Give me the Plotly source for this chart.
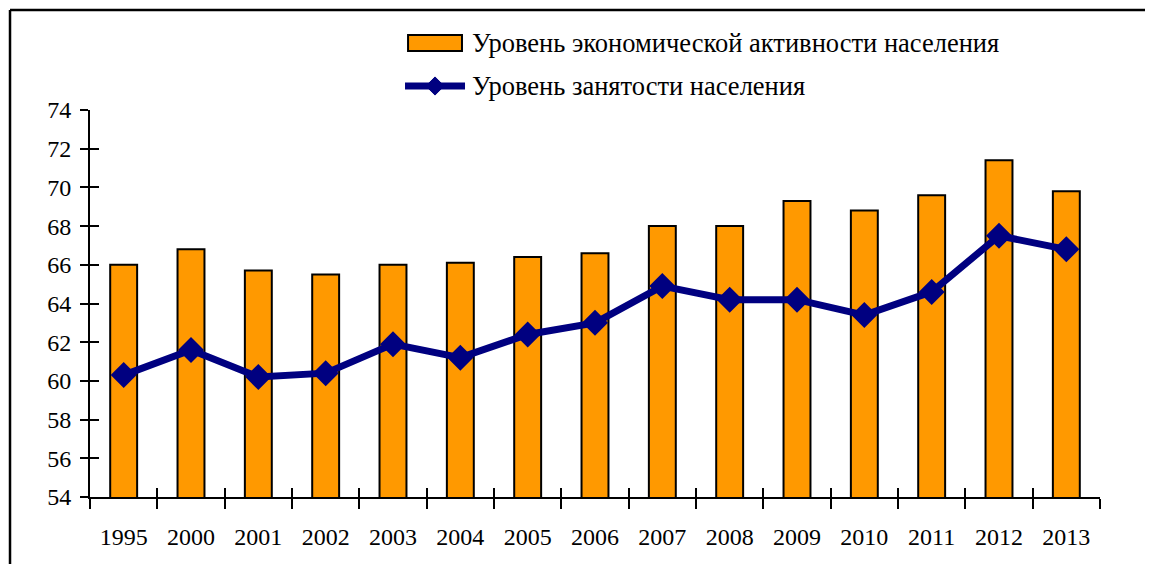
import plotly.graph_objects as go

years = ["1995", "2000", "2001", "2002", "2003", "2004", "2005", "2006",
         "2007", "2008", "2009", "2010", "2011", "2012", "2013"]
activity = [66.0, 66.8, 65.7, 65.5, 66.0, 66.1, 66.4, 66.6,
            68.0, 68.0, 69.3, 68.8, 69.6, 71.4, 69.8]
employment = [60.3, 61.6, 60.2, 60.4, 61.9, 61.2, 62.4, 63.0,
              64.9, 64.2, 64.2, 63.4, 64.6, 67.5, 66.8]
name_bar = "Уровень экономической активности населения"
name_line = "Уровень занятости населения"
y_ticks = list(range(54, 75, 2))

FONT = "Liberation Serif, Times New Roman, serif"
ORANGE = "#FF9900"
NAVY = "#000080"

fig = go.Figure()
fig.add_trace(go.Bar(
    x=years, y=activity, name=name_bar, showlegend=False,
    marker=dict(color=ORANGE, line=dict(color="black", width=2)),
))
fig.add_trace(go.Scatter(
    x=years, y=employment, name=name_line, showlegend=False,
    mode="lines+markers",
    line=dict(color=NAVY, width=7),
    marker=dict(symbol="diamond", size=20, color=NAVY),
))

# invisible trace on overlay axes so that ticks crossing the axis lines are drawn
n = len(years)
fig.add_trace(go.Scatter(x=[-0.5, n - 0.5], y=[54, 74], xaxis="x2", yaxis="y2",
                         mode="markers", marker=dict(opacity=0, size=1),
                         showlegend=False, hoverinfo="skip"))

# legend drawn by hand (swatch + line/diamond + text)
lx0, lx1 = 0.3149, 0.3683
sw_y0, sw_y1 = 1.1525, 1.1938
ln_y = 1.062
dx, dy = 0.0090, 0.0235
dcx = 0.3416
shapes = [
    dict(type="line", xref="paper", yref="paper", x0=-0.0792, x1=-0.0792,
         y0=1.2584, y1=-0.2, line=dict(color="black", width=2.5)),
    dict(type="line", xref="paper", yref="paper", x0=-0.0792, x1=1.06,
         y0=1.2584, y1=1.2584, line=dict(color="black", width=2.5)),
    dict(type="rect", xref="paper", yref="paper", x0=lx0, x1=lx1, y0=sw_y0, y1=sw_y1,
         fillcolor=ORANGE, line=dict(color="black", width=2)),
    dict(type="line", xref="paper", yref="paper", x0=0.3119, x1=0.3713, y0=ln_y, y1=ln_y,
         line=dict(color=NAVY, width=7)),
    dict(type="path", xref="paper", yref="paper",
         path=f"M {dcx-dx},{ln_y} L {dcx},{ln_y+dy} L {dcx+dx},{ln_y} L {dcx},{ln_y-dy} Z",
         fillcolor=NAVY, line=dict(color=NAVY, width=1)),
]
annotations = [
    dict(text=name_bar, xref="paper", yref="paper", x=0.3762, y=1.174,
         xanchor="left", yanchor="middle", showarrow=False,
         font=dict(family=FONT, size=26.5, color="black")),
    dict(text=name_line, xref="paper", yref="paper", x=0.3762, y=1.062,
         xanchor="left", yanchor="middle", showarrow=False,
         font=dict(family=FONT, size=26.5, color="black")),
]

fig.update_layout(
    width=1145, height=556,
    margin=dict(l=82, r=53, t=102, b=67),
    paper_bgcolor="white", plot_bgcolor="white",
    font=dict(family=FONT, size=24, color="black"),
    bargap=0.6,
    showlegend=False,
    xaxis=dict(type="category", range=[-0.5, n - 0.5], showline=True,
               linecolor="black", linewidth=2,
               ticks="outside", ticklen=10, tickwidth=2, tickcolor="black",
               tickson="boundaries", showgrid=False, zeroline=False,
               ticklabelstandoff=17,
               tickfont=dict(family=FONT, size=24)),
    yaxis=dict(range=[54, 74], tickvals=y_ticks, showline=True, linecolor="black",
               linewidth=2, ticks="outside", ticklen=8, tickwidth=2,
               tickcolor="black", showgrid=False, zeroline=False,
               ticklabelstandoff=4,
               tickfont=dict(family=FONT, size=24)),
    xaxis2=dict(type="linear", overlaying="x", range=[-0.5, n - 0.5],
                tickvals=[i - 0.5 for i in range(n + 1)],
                ticks="inside", ticklen=9, tickwidth=2, tickcolor="black",
                showticklabels=False, showgrid=False, zeroline=False, showline=False,
                side="bottom"),
    yaxis2=dict(type="linear", overlaying="y", range=[54, 74], tickvals=y_ticks,
                ticks="inside", ticklen=9, tickwidth=2, tickcolor="black",
                showticklabels=False, showgrid=False, zeroline=False, showline=False,
                side="left"),
    shapes=shapes,
    annotations=annotations,
)

fig.write_html("out.html")
